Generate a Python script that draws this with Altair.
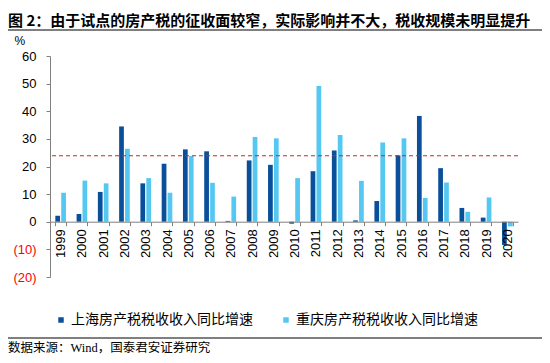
import altair as alt
import pandas as pd

years = ["1999", "2000", "2001", "2002", "2003", "2004", "2005", "2006", "2007", "2008", "2009",
         "2010", "2011", "2012", "2013", "2014", "2015", "2016", "2017", "2018", "2019", "2020"]
sh_name = "上海房产税税收收入同比增速"
cq_name = "重庆房产税税收收入同比增速"
sh_vals = [2.2, 2.8, 10.8, 34.5, 13.9, 21.0, 26.2, 25.5, 0.3, 22.2, 20.6,
           -0.7, 18.3, 25.8, 0.5, 7.5, 24.0, 38.3, 19.4, 5.0, 1.5, -8.4]
cq_vals = [10.5, 14.9, 13.9, 26.4, 15.8, 10.5, 23.8, 14.1, 9.1, 30.7, 30.2,
           15.8, 49.1, 31.4, 14.8, 28.7, 30.2, 8.6, 14.2, 3.6, 8.8, -1.7]
avg_line = [23.9]

title_text = "图 2：由于试点的房产税的征收面较窄，实际影响并不大，税收规模未明显提升"
source_text = "数据来源：Wind，国泰君安证券研究"

df = pd.DataFrame({
    "year": years * 2,
    "series": [sh_name] * len(years) + [cq_name] * len(years),
    "value": sh_vals + cq_vals,
})

names = [sh_name, cq_name]
colors = ["#0A4F9A", "#55C8F2"]

bars = alt.Chart(df).mark_bar().encode(
    x=alt.X("year:N", sort=years,
            scale=alt.Scale(paddingInner=0.5, paddingOuter=0.25),
            axis=alt.Axis(title=None, labelAngle=270, offset=-55.3, tickBand="extent",
                          labelFont="Liberation Sans", labelFontSize=13, labelColor="#000000",
                          domainColor="#808080", tickColor="#808080", tickSize=4,
                          labelPadding=3, labelOverlap=False, zindex=1)),
    xOffset=alt.XOffset("series:N", sort=names, scale=alt.Scale(paddingInner=0.2)),
    y=alt.Y("value:Q", scale=alt.Scale(domain=[-20, 60], nice=False),
            axis=alt.Axis(tickCount=8, grid=False, title="%", titleAngle=0,
                          titleX=-36, titleY=-16, titleAlign="left", titleBaseline="middle",
                          titleFont="Liberation Sans", titleFontSize=12, titleFontWeight="normal",
                          labelExpr="datum.value < 0 ? '(' + abs(datum.value) + ')' : datum.value + '\u00a0'",
                          labelColor=alt.condition("datum.value < 0", alt.value("#FF0000"), alt.value("#000000")),
                          labelFont="Liberation Sans", labelFontSize=13, labelPadding=10,
                          labelOverlap=False, labelFlush=False,
                          domainColor="#808080", tickColor="#808080", tickSize=4)),
    color=alt.Color("series:N", sort=names,
                    scale=alt.Scale(domain=names, range=colors),
                    legend=alt.Legend(orient="none", legendX=4, legendY=257, direction="horizontal",
                                      title=None, symbolType="square", symbolSize=30,
                                      symbolStrokeWidth=0, labelFont="Noto Sans CJK SC",
                                      labelFontSize=14, labelColor="#000000", labelLimit=0,
                                      columnPadding=26, labelOffset=3)),
)

avg_rule = alt.Chart(pd.DataFrame({"v": avg_line})).mark_rule(
    color="#C62828", strokeDash=[4, 3], strokeWidth=1.2
).encode(y="v:Q")

one = pd.DataFrame({"a": [0]})
title_mark = alt.Chart(one).mark_text(
    align="left", baseline="middle", fontSize=15, fontWeight="bold",
    font="Noto Sans CJK SC", color="#000000"
).encode(x=alt.value(-42), y=alt.value(-35), text=alt.value(title_text))

source_mark = alt.Chart(one).mark_text(
    align="left", baseline="middle", fontSize=12.5,
    font="Liberation Serif, Noto Sans CJK SC", color="#000000"
).encode(x=alt.value(-42), y=alt.value(292), text=alt.value(source_text))

top_line = alt.Chart(one).mark_rule(color="#000000", strokeWidth=1).encode(
    x=alt.value(-45), x2=alt.value(495), y=alt.value(-26))
bottom_line = alt.Chart(one).mark_rule(color="#000000", strokeWidth=1).encode(
    x=alt.value(-45), x2=alt.value(495), y=alt.value(282))

chart = alt.layer(bars, avg_rule, title_mark, source_mark, top_line, bottom_line).properties(
    width=468, height=221,
    autosize=alt.AutoSizeParams(type="none"),
    padding={"left": 42, "top": 48, "right": 24, "bottom": 78},
).configure_view(stroke=None)

chart.save("out.html", embed_options={"renderer": "svg", "actions": False})
